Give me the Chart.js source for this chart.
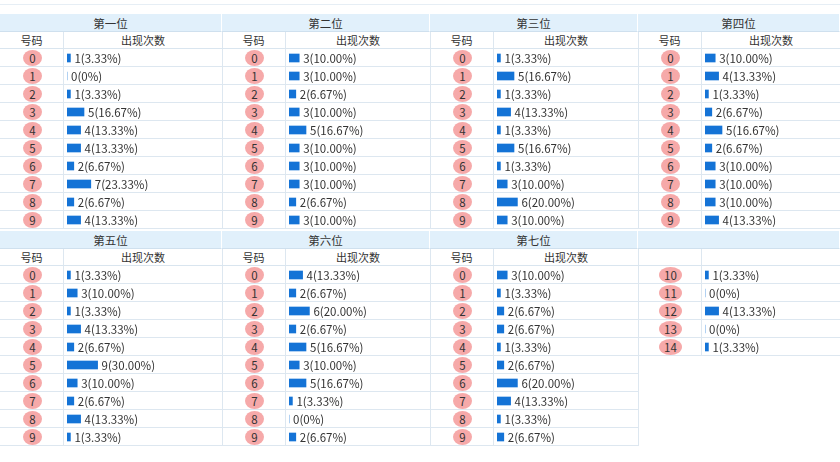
<!DOCTYPE html>
<html><head><meta charset="utf-8">
<script src="https://cdn.jsdelivr.net/npm/chart.js@4/dist/chart.umd.min.js"></script>
<style>
body{margin:0;width:840px;height:462px;background:#fff;font-family:"Noto Sans CJK SC","Noto Sans",sans-serif;font-size:11px;color:#333;position:relative;overflow:hidden}
.a{position:absolute;box-sizing:border-box}
.hd{background:#e1f0fb;border-bottom:1px solid #cfe0ee;border-right:1px solid #fff;text-align:center;line-height:18px;font-size:11.5px}
.sh{text-align:center;line-height:16px;border-bottom:1px solid #d9e5ef}
.row{border-bottom:1px solid #dde7f0}
.vl{border-left:1px solid #dde7f0}
.c{width:19px;height:16px;border-radius:50%;background:#f6a9a9;text-align:center;line-height:16px;font-size:11.5px;color:#333}
.c2{width:23px}
</style></head><body>
<div class="a" style="left:0;top:0;width:840px;height:5px;border-bottom:1px solid #e6eef5"></div>
<script>
const sectionTitles = ["第一位","第二位","第三位","第四位","第五位","第六位","第七位",""];
const codeHeader = "号码", countHeader = "出现次数";
const codes = [["0","1","2","3","4","5","6","7","8","9"],["0","1","2","3","4","5","6","7","8","9"],["0","1","2","3","4","5","6","7","8","9"],["0","1","2","3","4","5","6","7","8","9"],["0","1","2","3","4","5","6","7","8","9"],["0","1","2","3","4","5","6","7","8","9"],["0","1","2","3","4","5","6","7","8","9"],["10","11","12","13","14"]];
const s1 = [1,0,1,5,4,4,2,7,2,4];
const s2 = [3,3,2,3,5,3,3,3,2,3];
const s3 = [1,5,1,4,1,5,1,3,6,3];
const s4 = [3,4,1,2,5,2,3,3,3,4];
const s5 = [1,3,1,4,2,9,3,2,4,1];
const s6 = [4,2,6,2,5,3,5,1,0,2];
const s7 = [3,1,2,2,1,2,6,4,1,2];
const s8 = [1,0,4,0,1];
const totalDraws = 30;
const series = [s1,s2,s3,s4,s5,s6,s7,s8];

const colX = [0,222,430,638,840];
const blockY = [14,231];
const HDR=18, SUB=17, ROW=18, CODEW=63;

function el(cls, l, t, w, h, txt){const d=document.createElement('div');d.className='a '+cls;Object.assign(d.style,{left:l+'px',top:t+'px',width:w+'px',height:h+'px'});if(txt!==undefined)d.textContent=txt;document.body.appendChild(d);return d;}

const lblPlugin={id:'lbl',afterDatasetsDraw(ch){const ctx=ch.ctx;const meta=ch.getDatasetMeta(0);const d=ch.data.datasets[0].data;ctx.save();ctx.font='11.5px "Noto Sans CJK SC","Noto Sans",sans-serif';ctx.fillStyle='#333';ctx.textBaseline='middle';
meta.data.forEach((b,i)=>{const v=d[i];const p=v===0?'0%':(v/totalDraws*100).toFixed(2)+'%';ctx.fillText(v+'('+p+')',(v===0?b.x+4:b.x+4),b.y+0.5);});ctx.restore();}};

series.forEach((vals,k)=>{
  const col=k%4, blk=Math.floor(k/4);
  const x0=colX[col], w=colX[col+1]-colX[col], y0=blockY[blk];
  el('hd',x0,y0,w,HDR,sectionTitles[k]);
  const sy=y0+HDR;
  el('sh',x0,sy,CODEW,SUB,k<7?codeHeader:'');
  el('sh vl',x0+CODEW,sy,w-CODEW,SUB,k<7?countHeader:'');
  const ry=sy+SUB;
  vals.forEach((v,i)=>{
    el('row',x0,ry+i*ROW,w,ROW);
    const two=codes[k][i].length>1;
    const c=el('c'+(two?' c2':''),x0+CODEW/2-(two?11.5:9.5)+1,ry+i*ROW+1,0,0,codes[k][i]);
    c.style.width='';c.style.height='';
  });
  el('vl',x0+CODEW,ry,1,vals.length*ROW);
  if(col<3) el('vl',x0+w,y0+HDR,1,SUB+vals.length*ROW);
  const cv=document.createElement('canvas');
  const wrap=el('',x0+CODEW+1,ry,w-CODEW-2,vals.length*ROW);
  wrap.appendChild(cv);
  new Chart(cv,{type:'bar',data:{labels:codes[k],datasets:[{data:vals,backgroundColor:'#1473d6',barThickness:8,borderWidth:0}]},
    options:{indexAxis:'y',responsive:true,maintainAspectRatio:false,animation:false,
      layout:{padding:{left:3,top:0,bottom:0,right:0}},
      plugins:{legend:{display:false},tooltip:{enabled:false}},
      scales:{x:{display:false,min:0,max:(w-CODEW-5)/3.4},y:{display:false}}},
    plugins:[lblPlugin]});
});
</script>
</body></html>
